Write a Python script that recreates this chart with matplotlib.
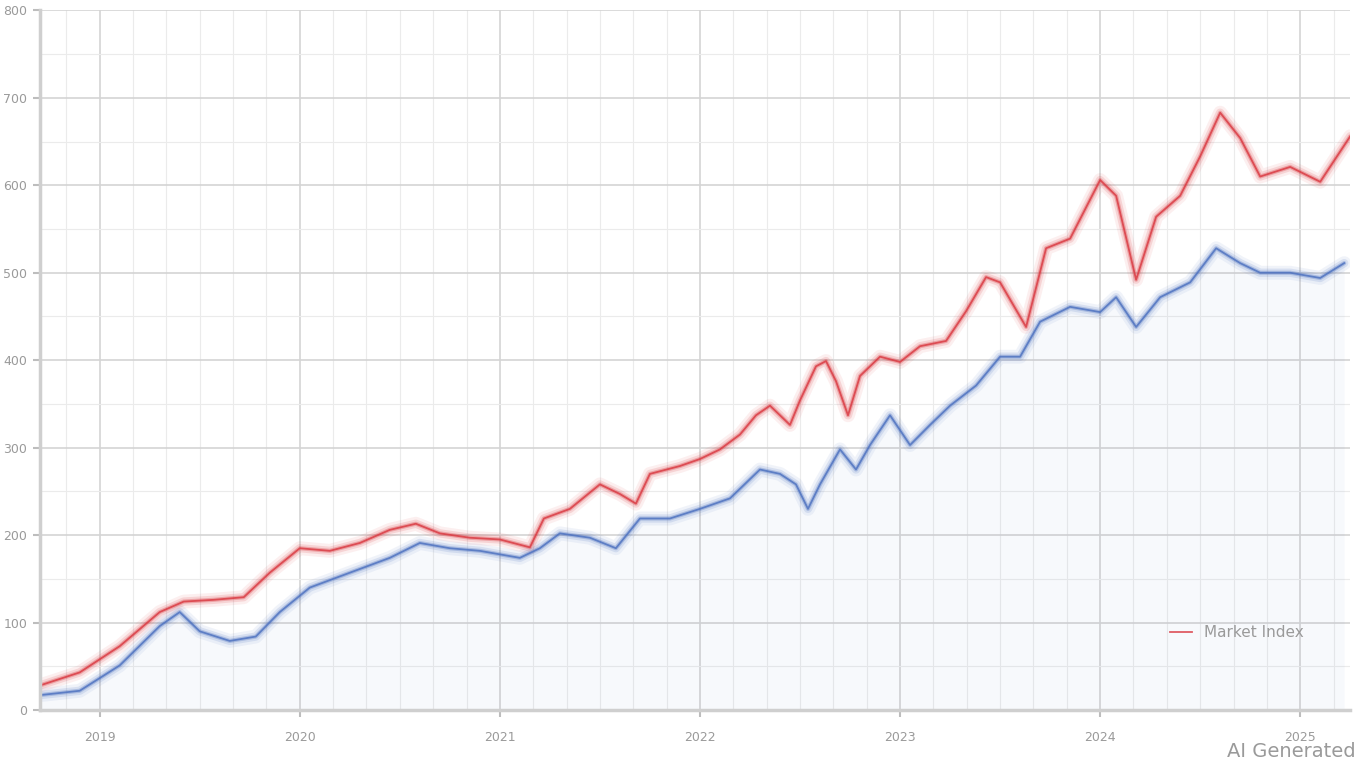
import numpy as np
import matplotlib.pyplot as plt
from matplotlib.ticker import MultipleLocator

# values (x in fractional years, y in index points)
red_x = [2018.70, 2018.90, 2019.10, 2019.30, 2019.42, 2019.57, 2019.72, 2019.85, 2020.00,
         2020.15, 2020.30, 2020.45, 2020.58, 2020.70, 2020.85, 2021.00, 2021.15, 2021.22,
         2021.35, 2021.50, 2021.60, 2021.68, 2021.75, 2021.90, 2022.00, 2022.10, 2022.20,
         2022.28, 2022.35, 2022.45, 2022.50, 2022.58, 2022.63, 2022.68, 2022.74, 2022.80,
         2022.90, 2023.00, 2023.10, 2023.23, 2023.33, 2023.43, 2023.50, 2023.63, 2023.73,
         2023.85, 2024.00, 2024.08, 2024.18, 2024.28, 2024.40, 2024.50, 2024.60, 2024.70,
         2024.80, 2024.95, 2025.10, 2025.25]
red_y = [28, 43, 73, 112, 124, 126, 129, 157, 185, 182, 191, 206, 213, 202, 197, 195,
         186, 219, 230, 258, 247, 236, 270, 279, 287, 298, 315, 337, 348, 326, 354, 393,
         399, 376, 337, 382, 404, 398, 416, 422, 456, 495, 489, 438, 528, 539, 606, 588,
         492, 564, 588, 633, 683, 654, 610, 621, 604, 656]

blue_x = [2018.70, 2018.90, 2019.10, 2019.30, 2019.40, 2019.50, 2019.65, 2019.78, 2019.90,
          2020.05, 2020.25, 2020.45, 2020.60, 2020.75, 2020.90, 2021.10, 2021.20, 2021.30,
          2021.45, 2021.58, 2021.70, 2021.85, 2022.00, 2022.15, 2022.30, 2022.40, 2022.48,
          2022.54, 2022.60, 2022.70, 2022.78, 2022.85, 2022.95, 2023.05, 2023.15, 2023.25,
          2023.38, 2023.50, 2023.60, 2023.70, 2023.85, 2024.00, 2024.08, 2024.18, 2024.30,
          2024.45, 2024.58, 2024.70, 2024.80, 2024.95, 2025.10, 2025.22]
blue_y = [17, 22, 51, 96, 112, 90, 79, 84, 112, 140, 157, 174, 191, 185, 182, 174, 185,
          202, 197, 185, 219, 219, 230, 242, 275, 270, 258, 230, 258, 298, 275, 303, 337,
          303, 326, 348, 371, 404, 404, 444, 461, 455, 472, 438, 472, 489, 528, 511, 500,
          500, 494, 511]

year_ticks = [2019, 2020, 2021, 2022, 2023, 2024, 2025]
year_labels = ['2019', '2020', '2021', '2022', '2023', '2024', '2025']
legend_label = 'Market Index'

red = '#d9363e'
blue = '#4a6fbf'

fig = plt.figure(figsize=(13.68, 7.68), dpi=100)
ax = fig.add_axes([0.029, 0.0755, 0.958, 0.911])

# soft halo then crisp line, to get the hazy look of the original
for lw, a in [(10, 0.08), (6, 0.15), (3, 0.30)]:
    ax.plot(red_x, red_y, color=red, lw=lw, alpha=a, solid_capstyle='round')
    ax.plot(blue_x, blue_y, color=blue, lw=lw, alpha=a, solid_capstyle='round')
ax.plot(red_x, red_y, color=red, lw=1.3, alpha=0.8, label=legend_label)
ax.plot(blue_x, blue_y, color=blue, lw=1.3, alpha=0.8)
ax.fill_between(blue_x, 0, blue_y, color=blue, alpha=0.04, lw=0)

ax.set_xlim(2018.70, 2025.25)
ax.set_ylim(0, 800)
ax.set_xticks(year_ticks)
ax.set_xticklabels(year_labels)
ax.xaxis.set_minor_locator(MultipleLocator(1 / 6))
ax.yaxis.set_major_locator(MultipleLocator(100))
ax.yaxis.set_minor_locator(MultipleLocator(50))

ax.grid(True, which='major', color='#d4d4d4', lw=1.2)
ax.grid(True, which='minor', color='#ebebeb', lw=0.8)
ax.set_axisbelow(True)

for side in ['top', 'right']:
    ax.spines[side].set_visible(False)
for side in ['left', 'bottom']:
    ax.spines[side].set_color('#cfcfcf')
    ax.spines[side].set_linewidth(2.5)

ax.tick_params(axis='both', which='major', colors='#bdbdbd', labelcolor='#9a9a9a',
               labelsize=9, length=5, width=1.5)
ax.tick_params(axis='both', which='minor', length=0)
ax.tick_params(axis='x', pad=10)
ax.tick_params(axis='y', pad=4)

ax.legend(loc='lower right', bbox_to_anchor=(0.975, 0.08), frameon=False,
          fontsize=11, labelcolor='#9a9a9a', handlelength=1.4)

fig.text(0.991, 0.022, 'AI Generated', ha='right', va='center',
         fontsize=14, color='#9a9a9a')

fig.savefig('out.png', dpi=100)
